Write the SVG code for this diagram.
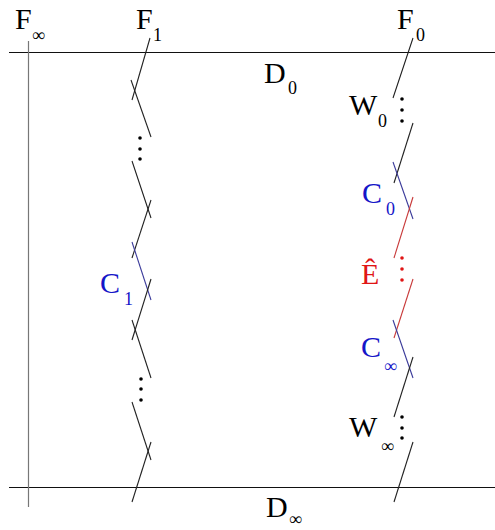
<svg xmlns="http://www.w3.org/2000/svg" width="495" height="530" viewBox="0 0 495 530">
<style>
text{font-family:"Liberation Serif","Times New Roman",serif;}
.lbl{font-size:30px;}
.sub{font-size:18px;}
.k{fill:#000;}
.b{fill:#1515c8;}
.r{fill:#e01515;}
.ln{stroke:#222;stroke-width:1.1;fill:none;}
.lb{stroke:#3a3a9a;stroke-width:1.1;fill:none;}
.lr{stroke:#c83a3a;stroke-width:1.1;fill:none;}
</style>
<rect width="495" height="530" fill="#fff"/>
<g id="axes">
<line x1="9" y1="52.5" x2="495" y2="52.5" stroke="#111" stroke-width="1"/>
<line x1="9" y1="487.5" x2="495" y2="487.5" stroke="#111" stroke-width="1"/>
<line x1="28.5" y1="41" x2="28.5" y2="507" stroke="#777" stroke-width="1.2"/>
</g>
<g id="connectors">
<line class="ln" x1="150" y1="38" x2="132" y2="100"/>
<line class="ln" x1="131" y1="80" x2="151" y2="137"/>
<line class="ln" x1="132" y1="161" x2="151" y2="218"/>
<line class="ln" x1="151" y1="200" x2="132" y2="258"/>
<line class="lb" x1="132" y1="242" x2="151" y2="300"/>
<line class="ln" x1="151" y1="279" x2="132" y2="340"/>
<line class="ln" x1="132" y1="320" x2="151" y2="378"/>
<line class="ln" x1="132" y1="402" x2="151" y2="460"/>
<line class="ln" x1="151" y1="442" x2="132" y2="502"/>
<line class="ln" x1="413" y1="38" x2="393" y2="98"/>
<line class="ln" x1="413" y1="123" x2="394" y2="183"/>
<line class="lb" x1="393" y1="162" x2="413" y2="219"/>
<line class="lr" x1="413" y1="197" x2="394" y2="258"/>
<line class="lr" x1="413" y1="279" x2="394" y2="338"/>
<line class="lb" x1="393" y1="320" x2="413" y2="378"/>
<line class="ln" x1="413" y1="357" x2="394" y2="417"/>
<line class="ln" x1="413" y1="442" x2="394" y2="502"/>
</g>
<g id="dots">
<circle cx="140" cy="138" r="1.8"/><circle cx="140" cy="149" r="1.8"/><circle cx="140" cy="159" r="1.8"/>
<circle cx="141" cy="379" r="1.8"/><circle cx="141" cy="389" r="1.8"/><circle cx="141" cy="400" r="1.8"/>
<circle cx="402" cy="99" r="1.8"/><circle cx="402" cy="110" r="1.8"/><circle cx="402" cy="121" r="1.8"/>
<circle cx="402" cy="258" r="1.8" fill="#e01515"/><circle cx="402" cy="269" r="1.8" fill="#e01515"/><circle cx="402" cy="280" r="1.8" fill="#e01515"/>
<circle cx="402" cy="417" r="1.8"/><circle cx="402" cy="428" r="1.8"/><circle cx="402" cy="438" r="1.8"/>
</g>
<g id="F-inf"><text class="lbl k" x="15" y="29">F</text><text class="sub k" x="32" y="41">∞</text></g>
<g id="F-1"><text class="lbl k" x="136" y="29">F</text><text class="sub k" x="153" y="41">1</text></g>
<g id="F-0"><text class="lbl k" x="397" y="29">F</text><text class="sub k" x="416" y="41">0</text></g>
<g id="D-0"><text class="lbl k" x="264" y="83">D</text><text class="sub k" x="288" y="94">0</text></g>
<g id="W-0"><text class="lbl k" x="349" y="115">W</text><text class="sub k" x="378" y="127">0</text></g>
<g id="C-0"><text class="lbl b" x="362" y="203">C</text><text class="sub b" x="386" y="215">0</text></g>
<g id="E-hat"><text class="lbl r" x="361" y="284">Ê</text></g>
<g id="C-inf"><text class="lbl b" x="361" y="357">C</text><text class="sub b" x="384" y="372">∞</text></g>
<g id="W-inf"><text class="lbl k" x="349" y="437">W</text><text class="sub k" x="381" y="452">∞</text></g>
<g id="C-1"><text class="lbl b" x="100" y="293">C</text><text class="sub b" x="124" y="305">1</text></g>
<g id="D-inf"><text class="lbl k" x="266" y="517">D</text><text class="sub k" x="289" y="525">∞</text></g>
</svg>
